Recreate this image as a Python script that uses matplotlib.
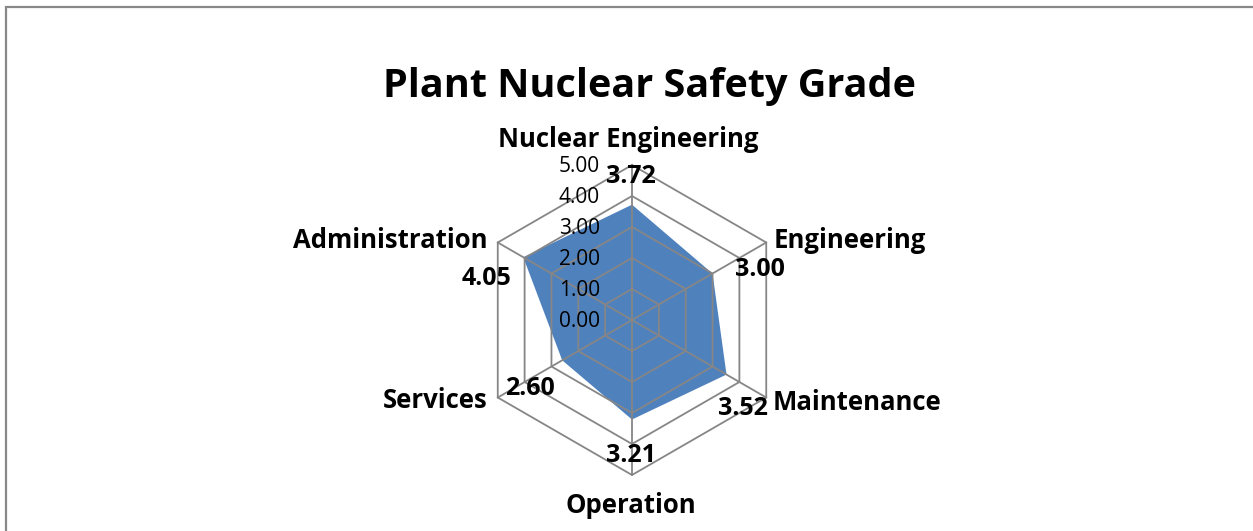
#!/usr/bin/env python3
import numpy as np
import matplotlib.pyplot as plt
from matplotlib.patches import Rectangle

plt.rcParams['font.family'] = ['Open Sans', 'DejaVu Sans']

categories = ['Nuclear Engineering', 'Engineering', 'Maintenance',
              'Operation', 'Services', 'Administration']
scores = [3.72, 3.00, 3.52, 3.21, 2.60, 4.05]
rings = [0, 1, 2, 3, 4, 5]
ring_labels = ['0.00', '1.00', '2.00', '3.00', '4.00', '5.00']
title = 'Plant Nuclear Safety Grade'

grid_color = '#868686'
fill_color = '#4F81BD'

# label placement (pixel offsets, y up)
cat_style = [
    ('center', (-4, 18)),
    ('left', (7, -6)),
    ('left', (6, -12)),
    ('center', (-1, -38)),
    ('right', (-10, -11)),
    ('right', (-10, -6)),
]
val_offsets = [(-1, 22), (47, -2), (16, -40), (-1, -42), (-32, -35), (-37, -28)]

W, H = 1253, 531
cx, cy = 632, 211   # centre of the radar, pixels from bottom-left
unit = 31.0         # pixels per score unit


def main():
    fig = plt.figure(figsize=(W / 100, H / 100), dpi=100)
    ax = fig.add_axes([0, 0, 1, 1])
    ax.set_xlim(-cx / unit, (W - cx) / unit)
    ax.set_ylim(-cy / unit, (H - cy) / unit)
    ax.axis('off')

    n = len(categories)
    ang = np.deg2rad(90 - 360.0 / n * np.arange(n))
    ux, uy = np.cos(ang), np.sin(ang)

    # filled series
    s = np.array(scores)
    ax.fill(s * ux, s * uy, color=fill_color, lw=0, zorder=1)

    # hexagon grid
    rmax = max(rings)
    for r in rings[1:]:
        ax.plot(np.append(r * ux, r * ux[0]), np.append(r * uy, r * uy[0]),
                color=grid_color, lw=1.3, zorder=2)
    for i in range(n):
        ax.plot([0, rmax * ux[i]], [0, rmax * uy[i]], color=grid_color, lw=1.3, zorder=2)

    # ring labels
    for r, lab in zip(rings, ring_labels):
        ax.annotate(lab, (0, r), xytext=(-32, -7), textcoords='offset pixels',
                    ha='right', va='baseline', fontsize=15, color='black', zorder=3)

    # category labels
    for i, (cat, (ha, off)) in enumerate(zip(categories, cat_style)):
        ax.annotate(cat, (rmax * ux[i], rmax * uy[i]), xytext=off,
                    textcoords='offset pixels', ha=ha, va='baseline',
                    fontsize=18.5, fontweight='bold', zorder=3)

    # data labels
    for i, (v, off) in enumerate(zip(scores, val_offsets)):
        ax.annotate('%.2f' % v, (v * ux[i], v * uy[i]), xytext=off,
                    textcoords='offset pixels', ha='center', va='baseline',
                    fontsize=18, fontweight='bold', zorder=4)

    fig.text(649 / W, 1 - 97 / H, title, ha='center', va='baseline',
             fontsize=28.5, fontweight='bold')

    # chart area border (right and bottom edges fall outside the image)
    fig.patches.append(Rectangle((5.5 / W, -0.1), 1.2, 1 - 6.5 / H + 0.1,
                                 transform=fig.transFigure, fill=False,
                                 edgecolor='#888888', lw=1.6))

    fig.savefig('out.png', dpi=100, facecolor='white')


if __name__ == '__main__':
    main()
